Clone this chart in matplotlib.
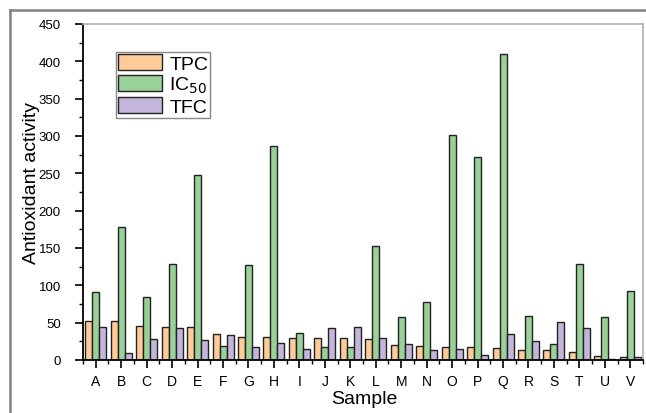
import matplotlib
matplotlib.use("Agg")
import matplotlib.pyplot as plt
from matplotlib.lines import Line2D
from matplotlib.ticker import MultipleLocator, FixedLocator
import numpy as np

plt.rcParams['font.family'] = ['Liberation Sans', 'DejaVu Sans']

samples = list("ABCDEFGHIJKLMNOPQRSTUV")
tpc  = [52.5, 51.6, 45.8, 43.6, 43.6, 34.3, 30.3, 30.3, 29.4, 29.0, 29.0,
        28.0, 19.6, 18.7, 17.8, 17.4, 15.6, 13.4, 13.0, 11.0, 5.0, 3.6]
ic50 = [91.7, 178.5, 85.0, 129.0, 248.0, 19.0, 127.0, 286.0, 36.0, 17.8, 17.8,
        152.6, 57.4, 78.0, 301.0, 271.5, 410.0, 59.0, 21.0, 128.6, 58.0, 92.0]
tfc  = [44.0, 10.0, 28.0, 42.3, 27.0, 34.0, 18.0, 22.7, 14.7, 42.3, 44.5,
        29.8, 21.0, 13.0, 14.7, 6.7, 35.0, 26.0, 51.0, 43.0, 1.7, 4.4]
yticks = [0, 50, 100, 150, 200, 250, 300, 350, 400, 450]

W, H = 646, 414
fig = plt.figure(figsize=(W/100, H/100), dpi=100)
ax = fig.add_axes([83/W, 1-361/H, (643-83)/W, (361-25)/H])

x = np.arange(len(samples))
bw = 0.275
ec = '#222222'
ax.bar(x - bw, tpc, bw, color='#FFCC99', edgecolor=ec, linewidth=1.0, label='TPC')
ax.bar(x, ic50, bw, color='#99D199', edgecolor=ec, linewidth=1.0, label='IC$_{50}$')
ax.bar(x + bw, tfc, bw, color='#C4B5DB', edgecolor=ec, linewidth=1.0, label='TFC')

ax.set_xlim(-0.5, len(samples) - 0.5)
ax.set_ylim(0, 450)
ax.set_yticks(yticks)
ax.yaxis.set_minor_locator(MultipleLocator(25))
ax.set_xticks(x)
ax.set_xticklabels(samples)
ax.xaxis.set_minor_locator(FixedLocator(np.arange(-0.5, len(samples), 1.0)))

ax.tick_params(axis='both', which='major', direction='out', length=6, width=1.2, color='black')
ax.tick_params(axis='both', which='minor', direction='out', length=3, width=1.0, color='black')
ax.tick_params(axis='y', which='major', labelsize=9.5, pad=10)
ax.tick_params(axis='x', which='major', labelsize=10, pad=4)

for s in ['left', 'bottom']:
    ax.spines[s].set_color('black')
    ax.spines[s].set_linewidth(1.3)
for s in ['top', 'right']:
    ax.spines[s].set_color('#b0b0b0')
    ax.spines[s].set_linewidth(1.2)

ax.set_ylabel('Antioxidant activity', fontsize=14)
ax.yaxis.set_label_coords((40-83)/560, 1-(183-25)/336)
ax.set_xlabel('Sample', fontsize=14)
ax.xaxis.set_label_coords((364-83)/560, -(391-361)/336)

leg = ax.legend(loc='upper left', bbox_to_anchor=(33/560, 1-(53-25)/336), fontsize=14,
                frameon=True, fancybox=False, edgecolor='#888888', framealpha=1,
                handlelength=2.25, handleheight=0.9, handletextpad=0.4,
                labelspacing=0.1, borderpad=0.1, borderaxespad=0)
leg.get_frame().set_linewidth(1.0)

# outer frame lines
fig.add_artist(Line2D([9.5/W, 9.5/W], [0, 1-10.5/H], transform=fig.transFigure,
                      color='#808080', linewidth=1.8))
fig.add_artist(Line2D([9.5/W, 1], [1-10.5/H, 1-10.5/H], transform=fig.transFigure,
                      color='#808080', linewidth=1.8))

fig.savefig('out.png', dpi=100)
